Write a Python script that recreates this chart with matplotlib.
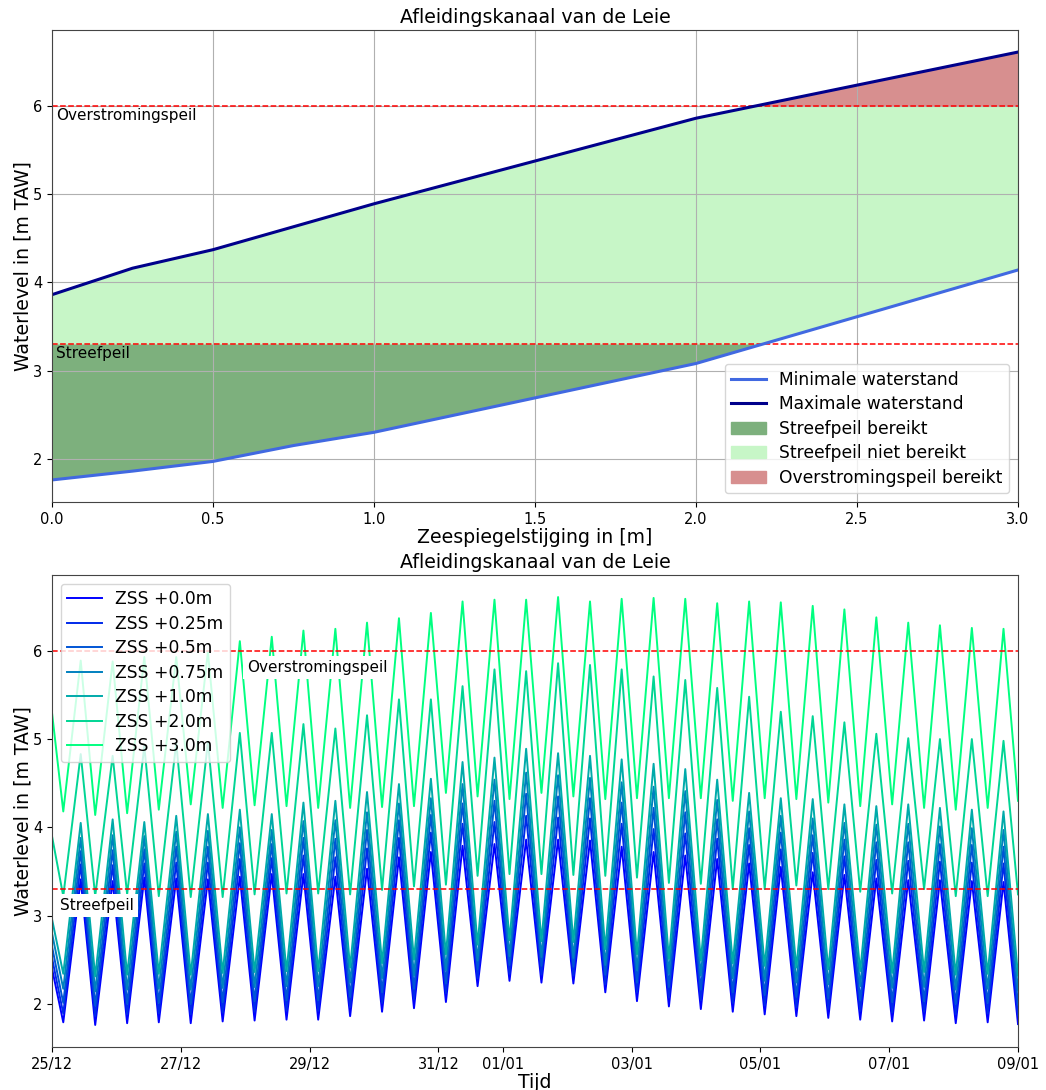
import numpy as np
import matplotlib
matplotlib.use("Agg")
import matplotlib.pyplot as plt
import matplotlib.dates as mdates
from matplotlib.patches import Patch

# ---------------- data: top chart ----------------
zss = [0.0, 0.25, 0.5, 0.75, 1.0, 2.0, 3.0]
min_level = [1.76, 1.86, 1.97, 2.15, 2.30, 3.08, 4.14]
max_level = [3.86, 4.16, 4.37, 4.63, 4.89, 5.86, 6.61]
streefpeil = 3.3
overstromingspeil = 6.0

# ---------------- data: bottom chart (tide extremes, hours after 25/12 00:00) ----------------
start_date = "2023-12-25T00:00"
low_hours = [4.2, 16.1, 28.0, 39.8, 51.7, 63.6, 75.5, 87.4, 99.2, 111.1,
             123.0, 134.9, 146.8, 158.6, 170.5, 182.4, 194.3, 206.2, 218.0, 229.9,
             241.8, 253.7, 265.6, 277.4, 289.3, 301.2, 313.1, 325.0, 336.8, 348.7]
high_hours = [10.7, 22.6, 34.4, 46.3, 58.1, 70.0, 81.9, 93.7, 105.6, 117.4,
              129.3, 141.2, 153.0, 164.9, 176.7, 188.6, 200.5, 212.3, 224.2, 236.0,
              247.9, 259.8, 271.6, 283.5, 295.3, 307.2, 319.1, 330.9, 342.8, 354.6]
end_hour = 360.0

series_labels = ["ZSS +0.0m", "ZSS +0.25m", "ZSS +0.5m", "ZSS +0.75m",
                 "ZSS +1.0m", "ZSS +2.0m", "ZSS +3.0m"]

first_0 = 2.40
low_0 = [1.79, 1.76, 1.78, 1.79, 1.78, 1.80, 1.81, 1.82, 1.82, 1.86, 1.91, 1.95, 2.02, 2.20, 2.26,
         2.24, 2.23, 2.13, 2.03, 1.97, 1.94, 1.91, 1.88, 1.86, 1.84, 1.82, 1.80, 1.81, 1.78, 1.79]
high_0 = [3.41, 3.39, 3.43, 3.42, 3.41, 3.44, 3.47, 3.47, 3.44, 3.53, 3.66, 3.72, 3.79, 3.81, 3.86,
          3.86, 3.85, 3.78, 3.72, 3.68, 3.64, 3.59, 3.55, 3.49, 3.46, 3.42, 3.40, 3.40, 3.39, 3.38]
last_0 = 1.77

first_025 = 2.52
low_025 = [1.89, 1.86, 1.88, 1.89, 1.88, 1.90, 1.91, 1.92, 1.92, 1.96, 2.01, 2.05, 2.12, 2.29, 2.34,
           2.33, 2.32, 2.22, 2.13, 2.07, 2.04, 2.01, 1.98, 1.96, 1.94, 1.92, 1.90, 1.91, 1.88, 1.89]
high_025 = [3.58, 3.57, 3.59, 3.60, 3.60, 3.64, 3.65, 3.68, 3.66, 3.76, 3.88, 3.94, 4.04, 4.06, 4.13,
            4.11, 4.10, 4.04, 3.98, 3.93, 3.87, 3.80, 3.75, 3.71, 3.67, 3.63, 3.62, 3.61, 3.60, 3.59]
last_025 = 1.87

first_05 = 2.65
low_05 = [2.01, 1.98, 2.00, 2.01, 2.00, 2.02, 2.03, 2.04, 2.04, 2.08, 2.13, 2.17, 2.23, 2.39, 2.44,
          2.43, 2.42, 2.33, 2.24, 2.19, 2.16, 2.13, 2.10, 2.08, 2.06, 2.04, 2.02, 2.03, 2.00, 2.01]
high_05 = [3.73, 3.74, 3.75, 3.78, 3.78, 3.82, 3.81, 3.88, 3.87, 3.97, 4.08, 4.14, 4.27, 4.30, 4.38,
           4.35, 4.33, 4.28, 4.22, 4.17, 4.09, 3.99, 3.94, 3.91, 3.86, 3.83, 3.83, 3.81, 3.80, 3.78]
last_05 = 1.99

first_075 = 2.80
low_075 = [2.17, 2.14, 2.16, 2.17, 2.16, 2.18, 2.19, 2.20, 2.20, 2.24, 2.29, 2.32, 2.38, 2.49, 2.54,
           2.53, 2.52, 2.44, 2.38, 2.34, 2.32, 2.29, 2.26, 2.24, 2.22, 2.20, 2.18, 2.19, 2.16, 2.17]
high_075 = [3.88, 3.91, 3.90, 3.95, 3.96, 4.00, 3.97, 4.07, 4.08, 4.17, 4.27, 4.33, 4.49, 4.54, 4.62,
            4.59, 4.56, 4.51, 4.46, 4.41, 4.31, 4.18, 4.13, 4.10, 4.05, 4.03, 4.04, 4.01, 3.99, 3.97]
last_075 = 2.15

first_1 = 2.96
low_1 = [2.34, 2.31, 2.33, 2.34, 2.33, 2.35, 2.36, 2.37, 2.37, 2.41, 2.46, 2.50, 2.56, 2.67, 2.72,
         2.71, 2.70, 2.62, 2.56, 2.51, 2.49, 2.46, 2.43, 2.41, 2.39, 2.37, 2.35, 2.36, 2.33, 2.34]
high_1 = [4.05, 4.09, 4.06, 4.13, 4.15, 4.20, 4.15, 4.28, 4.30, 4.40, 4.49, 4.55, 4.74, 4.79, 4.89,
          4.84, 4.81, 4.77, 4.72, 4.66, 4.54, 4.39, 4.33, 4.32, 4.26, 4.24, 4.26, 4.22, 4.20, 4.18]
last_1 = 2.32

first_2 = 3.90
low_2 = [3.22, 3.22, 3.24, 3.22, 3.21, 3.21, 3.24, 3.25, 3.25, 3.24, 3.29, 3.33, 3.35, 3.45, 3.47,
         3.47, 3.46, 3.45, 3.43, 3.37, 3.36, 3.30, 3.30, 3.34, 3.30, 3.27, 3.25, 3.30, 3.22, 3.22]
high_2 = [4.83, 4.81, 4.92, 4.96, 4.97, 5.07, 5.07, 5.17, 5.12, 5.27, 5.45, 5.45, 5.60, 5.79, 5.77,
          5.86, 5.84, 5.79, 5.71, 5.67, 5.58, 5.48, 5.31, 5.26, 5.19, 5.06, 5.01, 5.00, 5.00, 4.98]
last_2 = 3.24

first_3 = 5.30
low_3 = [4.18, 4.14, 4.16, 4.20, 4.26, 4.22, 4.25, 4.24, 4.22, 4.22, 4.23, 4.24, 4.39, 4.35, 4.32,
         4.39, 4.35, 4.32, 4.33, 4.33, 4.33, 4.30, 4.33, 4.32, 4.28, 4.24, 4.26, 4.22, 4.20, 4.22]
high_3 = [5.89, 5.88, 5.93, 5.93, 5.99, 6.11, 6.16, 6.23, 6.25, 6.32, 6.37, 6.43, 6.56, 6.58, 6.58,
          6.61, 6.56, 6.59, 6.60, 6.59, 6.54, 6.56, 6.55, 6.51, 6.47, 6.38, 6.32, 6.29, 6.26, 6.25]
last_3 = 4.30

series = [
    (first_0, low_0, high_0, last_0),
    (first_025, low_025, high_025, last_025),
    (first_05, low_05, high_05, last_05),
    (first_075, low_075, high_075, last_075),
    (first_1, low_1, high_1, last_1),
    (first_2, low_2, high_2, last_2),
    (first_3, low_3, high_3, last_3),
]

# ---------------- figure ----------------
plt.rcParams['font.family'] = ['DejaVu Sans']
fig = plt.figure(figsize=(10.46, 10.9), dpi=100)
ax1 = fig.add_axes([52/1046, 1-502/1090, 966/1046, 472/1090])
ax2 = fig.add_axes([52/1046, 1-1047/1090, 966/1046, 472/1090])

TITLE_FS = 13.7
LABEL_FS = 13.6
TICK_FS = 10.5
LEG_FS = 12.3
TXT_FS = 11.0

c_dark = (0.49, 0.69, 0.49)
c_light = (0.78, 0.965, 0.78)
c_red = (0.845, 0.56, 0.56)

x = np.array(zss)
ymin = np.array(min_level)
ymax = np.array(max_level)

ax1.fill_between(x, ymin, ymax, color=c_light, lw=0)
ax1.fill_between(x, ymin, streefpeil, where=ymin <= streefpeil, interpolate=True, color=c_dark, lw=0)
ax1.fill_between(x, overstromingspeil, ymax, where=ymax >= overstromingspeil, interpolate=True,
                 color=c_red, lw=0)
ax1.axhline(overstromingspeil, color='red', ls='--', lw=1.1)
ax1.axhline(streefpeil, color='red', ls='--', lw=1.1)
l1, = ax1.plot(x, ymin, color='royalblue', lw=2.2)
l2, = ax1.plot(x, ymax, color='darkblue', lw=2.2)
ax1.text(0.013, overstromingspeil - 0.02, "Overstromingspeil", va='top', ha='left', fontsize=TXT_FS)
ax1.text(0.013, streefpeil - 0.02, "Streefpeil", va='top', ha='left', fontsize=TXT_FS)
ax1.set_xlim(0, 3)
ax1.set_ylim(1.51, 6.86)
ax1.set_xticks([0.0, 0.5, 1.0, 1.5, 2.0, 2.5, 3.0])
ax1.set_yticks([2, 3, 4, 5, 6])
ax1.grid(True, color='#b0b0b0', lw=0.8)
ax1.set_title("Afleidingskanaal van de Leie", fontsize=TITLE_FS, pad=5)
ax1.set_xlabel("Zeespiegelstijging in [m]", fontsize=LABEL_FS, labelpad=1)
ax1.set_ylabel("Waterlevel in [m TAW]", fontsize=LABEL_FS, labelpad=0)
handles = [l1, l2, Patch(color=c_dark), Patch(color=c_light), Patch(color=c_red)]
labels = ["Minimale waterstand", "Maximale waterstand", "Streefpeil bereikt",
          "Streefpeil niet bereikt", "Overstromingspeil bereikt"]
ax1.legend(handles, labels, loc='lower right', fontsize=LEG_FS, labelspacing=0.38)

# bottom chart
t0 = np.datetime64(start_date)
def to_time(hours):
    return t0 + (np.array(hours) * 60).astype('timedelta64[m]')

hours_seq = [0.0]
for lo, hi in zip(low_hours, high_hours):
    hours_seq += [lo, hi]
hours_seq.append(end_hour)
times = to_time(hours_seq)

colors = plt.cm.winter(np.linspace(0, 1, len(series)))
for (first, lows, highs, last), lab, col in zip(series, series_labels, colors):
    vals = [first]
    for lo, hi in zip(lows, highs):
        vals += [lo, hi]
    vals.append(last)
    ax2.plot(times, vals, color=col, lw=1.4, label=lab)

ax2.axhline(overstromingspeil, color='red', ls='--', lw=1.1)
ax2.axhline(streefpeil, color='red', ls='--', lw=1.1)
box = dict(facecolor='white', edgecolor='none', pad=3)
ax2.text(to_time([72.7])[0], overstromingspeil - 0.185, "Overstromingspeil", va='center', ha='left',
         fontsize=TXT_FS, bbox=box)
ax2.text(to_time([3.0])[0], streefpeil - 0.19, "Streefpeil", va='center', ha='left',
         fontsize=TXT_FS, bbox=box)
ax2.set_xlim(to_time([0.0])[0], to_time([end_hour])[0])
ax2.set_ylim(1.51, 6.86)
ax2.set_yticks([2, 3, 4, 5, 6])
ax2.xaxis.set_major_locator(mdates.DayLocator(bymonthday=range(1, 32, 2)))
ax2.xaxis.set_major_formatter(mdates.DateFormatter('%d/%m'))
ax2.set_title("Afleidingskanaal van de Leie", fontsize=TITLE_FS, pad=5)
ax2.set_xlabel("Tijd", fontsize=LABEL_FS, labelpad=1)
ax2.set_ylabel("Waterlevel in [m TAW]", fontsize=LABEL_FS, labelpad=0)
ax2.legend(loc='upper left', fontsize=LEG_FS, labelspacing=0.38)

for ax in (ax1, ax2):
    ax.tick_params(labelsize=TICK_FS)
    for sp in ax.spines.values():
        sp.set_color('#444444')

fig.savefig("out.png", dpi=100)
